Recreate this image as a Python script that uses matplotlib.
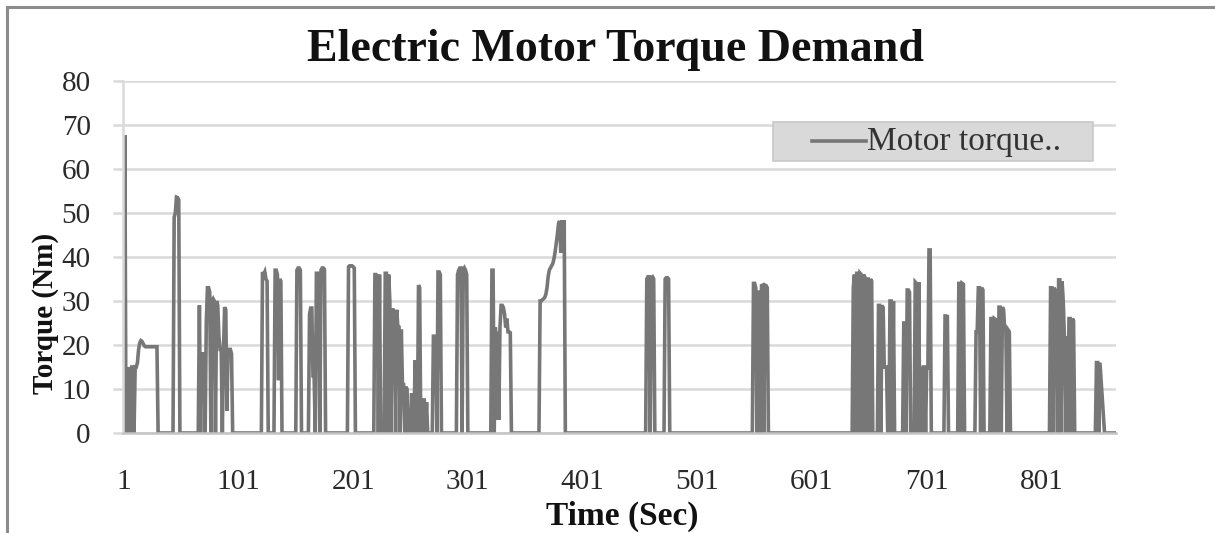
import numpy as np
import matplotlib
matplotlib.use("Agg")
import matplotlib.pyplot as plt
from matplotlib.lines import Line2D
from matplotlib.patches import Rectangle

# ---- data -------------------------------------------------------------
n_seconds = 866

# torque bursts: (first second, torque values in Nm for consecutive seconds)
burst_starts = [
    2, 45, 67, 122, 133, 152, 163, 197, 220, 292, 322, 364,
    457, 473, 550, 637, 659, 669, 681, 691, 696, 717, 729, 744,
    757, 764, 769, 809, 849,
]
burst_values = [
    [67.7, 0, 0, 0, 15, 0, 15, 15, 0, 15, 15, 16, 19, 20.5, 21, 20.8, 20.3,
     19.8, 19.6, 19.6, 19.6, 19.6, 19.6, 19.6, 19.6, 19.6, 19.6, 19.6, 19.6],
    [49, 50, 53.6, 53.5, 53],
    [29, 0, 18, 18, 18, 0, 25, 33, 33, 32, 0, 30, 30.5, 30, 0, 30, 29, 22,
     19, 19, 0, 19, 28.6, 28, 5, 19, 19, 19, 18],
    [36.6, 36, 36.6, 35, 34.5],
    [37, 37, 36, 12, 35, 34.5],
    [37, 37.5, 37.5, 37],
    [27, 28.4, 28.4, 13, 13, 0, 36.3, 36.3, 35, 0, 37, 37.5, 37.5, 37.2],
    [37.8, 38, 38, 38, 37.8, 37.5],
    [36, 36, 35.5, 0, 36, 0, 0, 0, 0, 36.3, 36.3, 0, 36, 30, 0, 28, 28,
     27.5, 0, 28, 24, 24, 0, 23.5, 11, 11, 0, 10.5, 10, 0, 0, 0, 9, 0, 0,
     16.5, 0, 0, 33.6, 33, 0, 0, 7.5, 7.5, 0, 7, 0, 0, 0, 0, 0, 22, 22,
     21.5, 0, 36.6, 36.6, 36],
    [36, 37, 37.5, 37.5, 0, 37, 37.5, 37, 36],
    [37, 37, 0, 24, 3, 23, 3, 24, 29, 29, 28.5, 27, 24, 26, 23, 23, 22.8],
    [30, 30, 30.3, 30.5, 30.8, 31.5, 33, 35.5, 37, 37.5, 38, 38.5, 39.5, 41,
     43, 45, 47.5, 48.2, 41, 48, 48, 48],
    [35, 35.5, 35.5, 0, 35.3, 35.5, 35],
    [35, 35.3, 35.3, 35],
    [34, 34, 33, 0, 32, 32, 0, 33.5, 33.6, 0, 33.6, 33.5, 33],
    [33, 36, 0, 36.3, 36.3, 0, 36.3, 36, 0, 36, 35.5, 0, 35, 35, 0, 35, 34.5],
    [29, 29, 0, 29, 28.5, 15, 15, 15],
    [30, 30, 0, 30],
    [25, 25, 0, 32.5, 32.5, 32],
    [34.3, 34, 0, 34.3],
    [15, 0, 15, 15, 0, 15, 14.5, 41.6, 41.6],
    [26.6, 26.6, 26.5],
    [34, 34, 0, 34, 33.8],
    [23, 23, 33, 33, 0, 33, 32.5],
    [26, 26, 0, 26, 25.8],
    [28.6, 28.6, 0, 28.6, 28],
    [23.4, 23.4, 0, 23.4, 23],
    [33, 33, 0, 33, 32.5, 20, 0, 34.8, 34.8, 0, 34.5, 30, 22, 0, 22, 0,
     26, 26, 0, 26, 25.5],
    [16, 16, 0, 16, 12, 8, 4],
]

x_ticks = [1, 101, 201, 301, 401, 501, 601, 701, 801]
y_ticks = [0, 10, 20, 30, 40, 50, 60, 70, 80]
series_name = "Motor torque.."

seconds = np.arange(1, n_seconds + 1)
torque = np.zeros(n_seconds)
for start, vals in zip(burst_starts, burst_values):
    torque[start - 1:start - 1 + len(vals)] = vals

# ---- figure -----------------------------------------------------------
W, H = 1215, 533
fig = plt.figure(figsize=(W / 100, H / 100), dpi=100)
fig.patch.set_facecolor("white")


def fx(px):
    return px / W


def fy(py):
    return 1 - py / H


serif = "Liberation Serif"
left_px, right_px, top_px, bottom_px = 123, 1116, 81, 433
ax = fig.add_axes([fx(left_px), fy(bottom_px),
                   (right_px - left_px) / W, (bottom_px - top_px) / H])

grid_c = "#d9d9d9"
ax.set_xlim(0.4, n_seconds)
ax.set_ylim(0, 80)
ax.set_yticks(y_ticks)
ax.set_xticks(x_ticks)
ax.set_xticklabels([str(t) for t in x_ticks])
ax.yaxis.grid(True, color=grid_c, lw=1.8)
ax.set_axisbelow(True)

for side in ("top", "right"):
    ax.spines[side].set_visible(False)
ax.spines["left"].set_color(grid_c)
ax.spines["left"].set_linewidth(1.8)
ax.spines["bottom"].set_color("#c4c4c4")
ax.spines["bottom"].set_linewidth(1.8)

ax.tick_params(axis="y", direction="out", length=7.2, width=1.8,
               color=grid_c, pad=16, labelsize=21, labelcolor="#2a2a2a")
ax.tick_params(axis="x", length=0, pad=26, labelsize=21,
               labelcolor="#2a2a2a")
for lab in ax.get_xticklabels() + ax.get_yticklabels():
    lab.set_fontfamily(serif)

line_c = "#777777"
ax.plot(seconds, torque, color=line_c, lw=2.6, solid_joinstyle="miter")

# title and axis labels
fig.text(fx(615), fy(50), "Electric Motor Torque Demand",
         ha="center", va="center", fontsize=33, fontweight="bold",
         family=serif, color="#111111")
fig.text(fx(622), fy(516), "Time (Sec)", ha="center", va="center",
         fontsize=24, fontweight="bold", family=serif, color="#111111")
fig.text(fx(46), fy(313), "Torque (Nm)", ha="center", va="center",
         rotation=90, fontsize=21, fontweight="bold", family=serif,
         color="#111111")

# legend box with line sample
fig.add_artist(Rectangle((fx(773), fy(161)), (1093 - 773) / W,
                         (161 - 122) / H, transform=fig.transFigure,
                         facecolor="#d9d9d9", edgecolor="#c8c8c8", lw=1.2))
fig.add_artist(Line2D([fx(812), fx(866)], [fy(141), fy(141)],
                      transform=fig.transFigure, color=line_c, lw=2.6))
fig.text(fx(867), fy(142), series_name, ha="left", va="center",
         fontsize=24, family=serif, color="#333333")

# outer chart border
fig.add_artist(Line2D([fx(7), 1.0], [fy(7), fy(7)],
                      transform=fig.transFigure, color="#8c8c8c", lw=2.2))
fig.add_artist(Line2D([fx(7), fx(7)], [fy(7), 0.0],
                      transform=fig.transFigure, color="#8c8c8c", lw=2.2))

fig.savefig("out.png", dpi=100, facecolor="white")
